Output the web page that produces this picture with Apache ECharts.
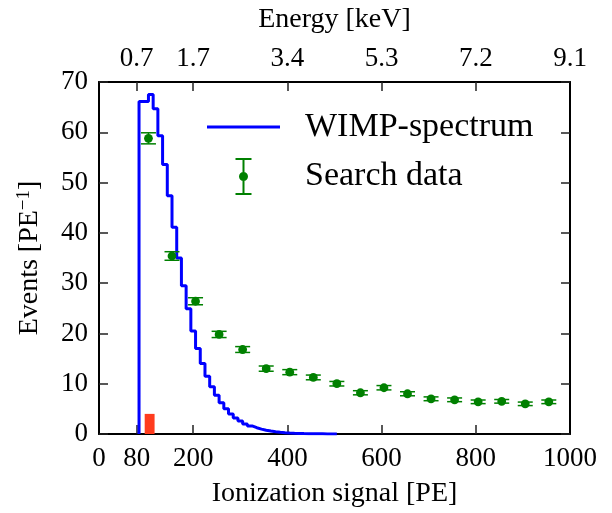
<!DOCTYPE html>
<html>
<head>
<meta charset="utf-8">
<script src="https://cdn.jsdelivr.net/npm/echarts@6/dist/echarts.min.js"></script>
<style>
html,body{margin:0;padding:0;background:#fff;}
#chart{width:612px;height:513px;}
</style>
</head>
<body>
<div id="chart"></div>
<script>
// ---- data ----
// WIMP spectrum histogram: bin edges [PE] and bin contents [events/PE]
const wimpEdges = [85,95,105,115,125,135,145,155,165,175,185,195,205,215,225,235,245,255,265,275,285,295,305,315,325,335,345,355,365,375,385,395,405,415,425,435,445,455,465,475,485,495,505];
const wimpValues = [66.1,66.1,67.5,64.7,59.3,53.6,47.4,41.1,35.0,29.5,24.9,20.5,17.0,14.0,11.5,9.4,7.7,6.2,5.0,4.0,3.2,2.6,2.0,1.6,1.25,0.97,0.75,0.58,0.45,0.35,0.27,0.21,0.16,0.12,0.09,0.07,0.05,0.04,0.03,0.02,0.015,0.01];
// Search data points
const searchX = [105,155,205,255,305,355,405,455,505,555,605,655,705,755,805,855,905,955];
const searchY = [58.8,35.4,26.4,19.8,16.8,13.0,12.3,11.25,10.0,8.2,9.2,8.0,7.0,6.8,6.4,6.5,6.0,6.4];
const searchErr = [1.1,0.85,0.7,0.62,0.58,0.52,0.5,0.47,0.45,0.41,0.43,0.4,0.38,0.37,0.36,0.36,0.35,0.36];
// red band (PE range and height)
const redBand = [97, 118, 4];
// tick labels
const peTicks = [0,80,200,400,600,800,1000];
const energyTickPE = [80,200,400,600,800,1000];
const energyLabels = ['0.7','1.7','3.4','5.3','7.2','9.1'];
const yTicks = [0,10,20,30,40,50,60,70];

// ---- build ----
const FONT = "'Liberation Serif','DejaVu Serif','Times New Roman',serif";
const GREEN = '#008000';
const BLUE = '#0000ff';

const histData = [[wimpEdges[0], 0]];
for (let i = 0; i < wimpValues.length; i++) histData.push([wimpEdges[i], wimpValues[i]]);
histData.push([wimpEdges[wimpEdges.length - 1], 0]);

const searchData = searchX.map((x, i) => [x, searchY[i], searchErr[i]]);

const chart = echarts.init(document.getElementById('chart'), null, {renderer: 'canvas'});

const tickStyle = {show: true, inside: true, length: 9, lineStyle: {color: '#222', width: 1.5}};
const axisLineStyle = {show: true, onZero: false, lineStyle: {color: '#000', width: 2}};

const option = {
  animation: false,
  backgroundColor: '#fff',
  textStyle: {fontFamily: FONT},
  grid: {left: 99, right: 42, top: 82, bottom: 79, containLabel: false},
  legend: {
    orient: 'vertical',
    left: 202,
    top: 105,
    itemWidth: 73,
    itemHeight: 37,
    itemGap: 14,
    selectedMode: false,
    symbolKeepAspect: true,
    textStyle: {fontFamily: FONT, fontSize: 34, color: '#000', padding: [5, 0, 0, 20]},
    data: [
      {name: 'WIMP-spectrum', icon: 'path://M0,0h73v3h-73z'},
      {name: 'Search data', icon: 'path://M0,0h16v2h-16zM7,0h2v37h-2zM0,35h16v2h-16zM3.5,18.5a4.5,4.5 0 1,1 9,0a4.5,4.5 0 1,1 -9,0z'}
    ]
  },
  xAxis: [
    {
      type: 'value', position: 'bottom', min: 0, max: 1000,
      name: 'Ionization signal [PE]', nameLocation: 'middle', nameGap: 46,
      nameTextStyle: {fontFamily: FONT, fontSize: 28, color: '#000'},
      axisLine: axisLineStyle,
      axisTick: Object.assign({}, tickStyle, {customValues: peTicks.slice(1, -1)}),
      axisLabel: {customValues: peTicks, fontFamily: FONT, fontSize: 27, color: '#000', margin: 11, formatter: v => String(v)},
      splitLine: {show: false}
    },
    {
      type: 'value', position: 'top', min: 0, max: 1000,
      name: 'Energy [keV]', nameLocation: 'middle', nameGap: 48,
      nameTextStyle: {fontFamily: FONT, fontSize: 28, color: '#000'},
      axisLine: axisLineStyle,
      axisTick: Object.assign({}, tickStyle, {customValues: energyTickPE.slice(0, -1)}),
      axisLabel: {
        customValues: energyTickPE, fontFamily: FONT, fontSize: 27, color: '#000', margin: 10,
        formatter: v => { const i = energyTickPE.indexOf(v); return i >= 0 ? energyLabels[i] : ''; }
      },
      splitLine: {show: false}
    }
  ],
  yAxis: [
    {
      type: 'value', position: 'left', min: 0, max: 70, interval: 10,
      name: 'Events [PE{sup|−1}]', nameLocation: 'middle', nameGap: 54, nameRotate: 90,
      nameTextStyle: {
        fontFamily: FONT, fontSize: 28, color: '#000', lineHeight: 30,
        rich: {sup: {fontFamily: FONT, fontSize: 19, lineHeight: 19, verticalAlign: 'top', color: '#000'}}
      },
      axisLine: axisLineStyle,
      axisTick: tickStyle,
      axisLabel: {customValues: yTicks, fontFamily: FONT, fontSize: 27, color: '#000', margin: 11},
      splitLine: {show: false}
    },
    {
      type: 'value', position: 'right', min: 0, max: 70, interval: 10,
      axisLine: axisLineStyle,
      axisTick: tickStyle,
      axisLabel: {show: false},
      splitLine: {show: false}
    }
  ],
  series: [
    {
      name: 'red band',
      type: 'custom',
      xAxisIndex: 0, yAxisIndex: 0,
      z: 3,
      data: [redBand],
      renderItem: (params, api) => {
        const p0 = api.coord([api.value(0), 0]);
        const p1 = api.coord([api.value(1), api.value(2)]);
        return {type: 'rect', shape: {x: p0[0], y: p1[1], width: p1[0] - p0[0], height: p0[1] - p1[1]}, style: {fill: '#ff3c1e'}};
      }
    },
    {
      name: 'WIMP-spectrum',
      type: 'line',
      xAxisIndex: 0, yAxisIndex: 0,
      step: 'end',
      symbol: 'none',
      color: BLUE,
      lineStyle: {color: BLUE, width: 3},
      z: 4,
      data: histData
    },
    {
      name: 'Search data',
      type: 'custom',
      xAxisIndex: 0, yAxisIndex: 0,
      color: GREEN,
      itemStyle: {color: GREEN},
      z: 5,
      data: searchData,
      renderItem: (params, api) => {
        const x = api.value(0), y = api.value(1), e = api.value(2);
        const c = api.coord([x, y]);
        const t = api.coord([x, y + e]);
        const b = api.coord([x, y - e]);
        const hw = 7.5;
        return {
          type: 'group',
          children: [
            {type: 'line', shape: {x1: c[0], y1: t[1], x2: c[0], y2: b[1]}, style: {stroke: GREEN, lineWidth: 1.5}},
            {type: 'line', shape: {x1: c[0] - hw, y1: t[1], x2: c[0] + hw, y2: t[1]}, style: {stroke: GREEN, lineWidth: 1.5}},
            {type: 'line', shape: {x1: c[0] - hw, y1: b[1], x2: c[0] + hw, y2: b[1]}, style: {stroke: GREEN, lineWidth: 1.5}},
            {type: 'circle', shape: {cx: c[0], cy: c[1], r: 4.4}, style: {fill: GREEN}}
          ]
        };
      }
    }
  ]
};
chart.setOption(option);
</script>
</body>
</html>
